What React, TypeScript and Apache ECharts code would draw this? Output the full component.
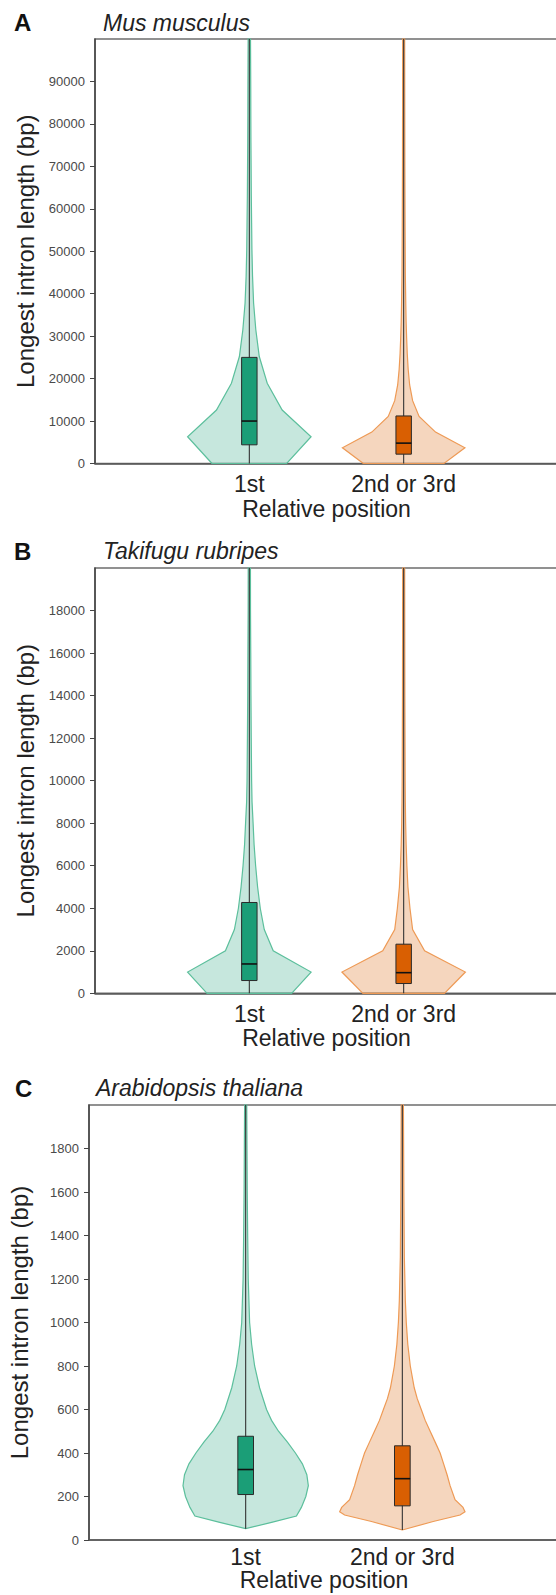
import React, { useEffect, useRef } from "react";
import * as echarts from "echarts";

// ---------- data ----------
const CATEGORIES = ["1st", "2nd or 3rd"];
const SPECIES = ["Mus musculus", "Takifugu rubripes", "Arabidopsis thaliana"];
const PANEL_LETTERS = ["A", "B", "C"];

const A_TICKS = [0, 10000, 20000, 30000, 40000, 50000, 60000, 70000, 80000, 90000];
const B_TICKS = [0, 2000, 4000, 6000, 8000, 10000, 12000, 14000, 16000, 18000];
const C_TICKS = [0, 200, 400, 600, 800, 1000, 1200, 1400, 1600, 1800];
const Y_MAX = [100000, 20000, 2000];

// violin profiles: levels (bp) and relative density (1 = widest)
const A1_LEVELS = [0, 6300, 12600, 18900, 25200, 31500, 37800, 44100, 50400, 56700, 63000, 69300, 75600, 81900, 88200, 94500, 100000];
const A1_DENS = [0.605, 1, 0.532, 0.29, 0.161, 0.105, 0.069, 0.052, 0.042, 0.037, 0.032, 0.029, 0.026, 0.024, 0.023, 0.021, 0.019];
const A2_LEVELS = [0, 3700, 7400, 11100, 14800, 18500, 22200, 25900, 29600, 33300, 37000, 40700, 44400, 55000, 70000, 100000];
const A2_DENS = [0.653, 0.992, 0.516, 0.25, 0.145, 0.097, 0.073, 0.058, 0.048, 0.04, 0.035, 0.031, 0.027, 0.023, 0.019, 0.016];

const B1_LEVELS = [0, 1000, 2000, 3000, 4000, 5000, 6000, 7000, 8000, 9000, 10000, 12000, 14000, 16000, 18000, 20000];
const B1_DENS = [0.685, 1, 0.387, 0.242, 0.177, 0.134, 0.102, 0.077, 0.061, 0.044, 0.037, 0.031, 0.026, 0.023, 0.019, 0.018];
const B2_LEVELS = [0, 1000, 2000, 3000, 4000, 5000, 6000, 7000, 8000, 9000, 10000, 14000, 20000];
const B2_DENS = [0.661, 1, 0.339, 0.145, 0.102, 0.069, 0.052, 0.04, 0.032, 0.027, 0.024, 0.019, 0.016];

const C1_LEVELS = [52, 81, 110, 150, 200, 250, 300, 350, 400, 450, 500, 550, 600, 700, 800, 900, 1000, 1200, 1400, 1600, 1800, 2000];
const C1_DENS = [0, 0.413, 0.81, 0.889, 0.96, 1, 0.976, 0.905, 0.794, 0.667, 0.524, 0.413, 0.333, 0.222, 0.143, 0.095, 0.063, 0.041, 0.032, 0.025, 0.021, 0.017];
const C2_LEVELS = [46, 85, 115, 130, 150, 185, 250, 300, 350, 400, 450, 500, 550, 600, 650, 700, 800, 900, 1000, 1100, 1300, 1600, 2000];
const C2_DENS = [0, 0.492, 0.921, 1, 0.968, 0.841, 0.762, 0.714, 0.659, 0.603, 0.524, 0.444, 0.365, 0.302, 0.238, 0.19, 0.127, 0.087, 0.063, 0.048, 0.032, 0.024, 0.017];

// box stats: [whisker low, Q1, median, Q3, whisker high]
const A1_BOX = [0, 4400, 10000, 25000, 100000];
const A2_BOX = [0, 2200, 4800, 11200, 100000];
const B1_BOX = [0, 600, 1380, 4270, 20000];
const B2_BOX = [0, 460, 970, 2310, 20000];
const C1_BOX = [52, 209, 324, 477, 2000];
const C2_BOX = [46, 157, 282, 433, 2000];

// ---------- styling ----------
const FONT = '"Liberation Sans", Arial, Helvetica, sans-serif';
const MAX_HALF = 0.4;
const BOX_HALF = 0.05;
const GREEN = { fill: "rgba(27,158,119,0.25)", stroke: "#5cbf9c", box: "#1b9e77" };
const ORANGE = { fill: "rgba(217,95,2,0.26)", stroke: "#ee9a55", box: "#d95f02" };

const GRIDS = [
  { left: 95, top: 39, width: 463, height: 424.5 },
  { left: 95, top: 568, width: 463, height: 425.3 },
  { left: 89, top: 1105, width: 470, height: 435 },
];
const X_NAME_GAP = [33, 33, 29];
const X_LABEL_MARGIN = [9, 9, 6];
const X_LABEL_LH = [undefined, undefined, 22];
const X_NAME_LH = [24, 24, 22];
const TITLE_Y = [22.5, 551, 1088];
const LETTER_X = [14, 14, 15];
const SPECIES_X = [103, 103, 96];

function violin(gi: number, xPos: number, levels: number[], dens: number[], box: number[], col: any) {
  return {
    type: "custom",
    xAxisIndex: gi,
    yAxisIndex: gi,
    data: [[xPos, box[2]]],
    silent: true,
    renderItem: (_params: any, api: any) => {
      const left = levels.map((v, i) => api.coord([xPos - dens[i] * MAX_HALF, v]));
      const right = levels.map((v, i) => api.coord([xPos + dens[i] * MAX_HALF, v])).reverse();
      const lo = api.coord([xPos, box[0]]);
      const hi = api.coord([xPos, box[4]]);
      const q3 = api.coord([xPos - BOX_HALF, box[3]]);
      const q1 = api.coord([xPos + BOX_HALF, box[1]]);
      const medL = api.coord([xPos - BOX_HALF, box[2]]);
      const medR = api.coord([xPos + BOX_HALF, box[2]]);
      return {
        type: "group",
        children: [
          {
            type: "polygon",
            shape: { points: [...left, ...right] },
            style: { fill: col.fill, stroke: col.stroke, lineWidth: 1.2 },
          },
          {
            type: "line",
            shape: { x1: lo[0], y1: lo[1], x2: hi[0], y2: hi[1] },
            style: { stroke: "#333", lineWidth: 1.1 },
          },
          {
            type: "rect",
            shape: { x: q3[0], y: q3[1], width: q1[0] - q3[0], height: q1[1] - q3[1] },
            style: { fill: col.box, stroke: "#2a2a2a", lineWidth: 1 },
          },
          {
            type: "line",
            shape: { x1: medL[0], y1: medL[1], x2: medR[0], y2: medR[1] },
            style: { stroke: "#111", lineWidth: 1.6 },
          },
        ],
      };
    },
  };
}

export default function App() {
  const ref = useRef<HTMLDivElement>(null);
  useEffect(() => {
    if (!ref.current) return;
    const chart = echarts.init(ref.current, null, { renderer: "svg" });
    const ticks = [A_TICKS, B_TICKS, C_TICKS];
    const option: any = {
      animation: false,
      backgroundColor: "#fff",
      textStyle: { fontFamily: FONT },
      grid: GRIDS.map((g) => ({
        ...g,
        show: true,
        borderColor: "#6e6e6e",
        borderWidth: 1.5,
        backgroundColor: "transparent",
        containLabel: false,
        outerBoundsMode: "none",
      })),
      xAxis: GRIDS.map((_g, i) => {
        const lab: any = {
          customValues: [1, 2],
          formatter: (v: number) => CATEGORIES[Math.round(v) - 1] ?? "",
          fontSize: 23,
          color: "#222",
          margin: X_LABEL_MARGIN[i],
          fontFamily: FONT,
        };
        if (X_LABEL_LH[i]) lab.lineHeight = X_LABEL_LH[i];
        return {
          type: "value",
          gridIndex: i,
          min: 0,
          max: 3,
          interval: 1,
          name: "Relative position",
          nameLocation: "middle",
          nameGap: X_NAME_GAP[i],
          nameMoveOverlap: false,
          nameTextStyle: { fontSize: 23, lineHeight: X_NAME_LH[i], color: "#222", fontFamily: FONT },
          axisLine: { show: true, lineStyle: { color: "#555", width: 1.5 } },
          axisTick: { show: false },
          splitLine: { show: false },
          axisLabel: lab,
        };
      }),
      yAxis: GRIDS.map((_g, i) => ({
        type: "value",
        gridIndex: i,
        min: 0,
        max: Y_MAX[i],
        name: "Longest intron length (bp)",
        nameLocation: "middle",
        nameGap: 58,
        nameMoveOverlap: false,
        nameRotate: 90,
        nameTextStyle: { fontSize: 24, color: "#222", fontFamily: FONT },
        axisLine: { show: true, lineStyle: { color: "#444", width: 1.5 } },
        axisTick: { show: true, customValues: ticks[i], length: 5, lineStyle: { color: "#444", width: 1 } },
        splitLine: { show: false },
        axisLabel: {
          customValues: ticks[i],
          formatter: (v: number) => String(v),
          fontSize: 13,
          color: "#4a4a4a",
          margin: 10,
          fontFamily: FONT,
        },
      })),
      graphic: [
        ...PANEL_LETTERS.map((t, i) => ({
          type: "text",
          x: LETTER_X[i],
          y: TITLE_Y[i],
          style: { text: t, fontSize: 24, fontWeight: "bold", fontFamily: FONT, fill: "#111", verticalAlign: "middle" },
        })),
        ...SPECIES.map((t, i) => ({
          type: "text",
          x: SPECIES_X[i],
          y: TITLE_Y[i],
          style: { text: t, fontSize: 23, fontStyle: "italic", fontFamily: FONT, fill: "#222", verticalAlign: "middle" },
        })),
      ],
      series: [
        violin(0, 1, A1_LEVELS, A1_DENS, A1_BOX, GREEN),
        violin(0, 2, A2_LEVELS, A2_DENS, A2_BOX, ORANGE),
        violin(1, 1, B1_LEVELS, B1_DENS, B1_BOX, GREEN),
        violin(1, 2, B2_LEVELS, B2_DENS, B2_BOX, ORANGE),
        violin(2, 1, C1_LEVELS, C1_DENS, C1_BOX, GREEN),
        violin(2, 2, C2_LEVELS, C2_DENS, C2_BOX, ORANGE),
      ],
    };
    chart.setOption(option);
    return () => chart.dispose();
  }, []);
  return (
    <div
      ref={ref}
      style={{ position: "absolute", left: 0, top: 0, width: 556, height: 1595, background: "#fff" }}
    />
  );
}
